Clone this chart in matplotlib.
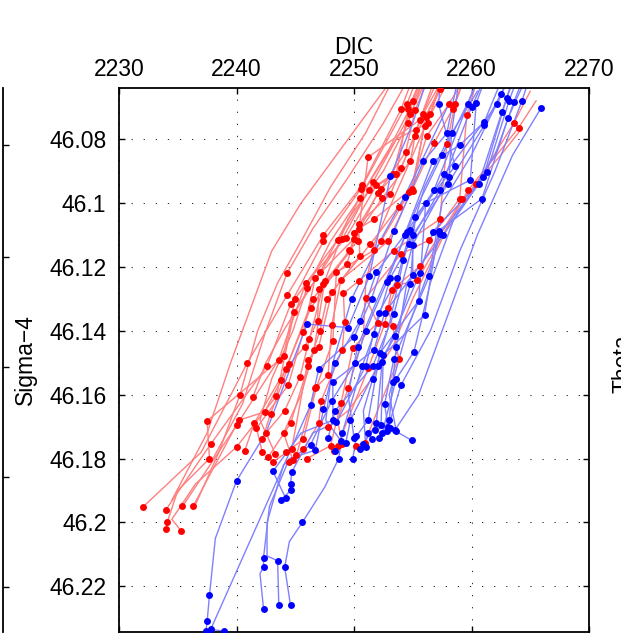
import matplotlib
matplotlib.use("Agg")
import matplotlib.pyplot as plt

plt.rcParams['font.family'] = ['Liberation Sans', 'DejaVu Sans']

# x = DIC, y = Sigma-4, third value 1 = sample dot, 0 = line only
red_profiles = [
    [(2232.0, 46.1953, 1), (2237.0, 46.178, 0), (2240.9, 46.1502, 1), (2244.3, 46.1289, 1), (2247.4, 46.110, 1), (2250.7, 46.0944, 1), (2254.0, 46.0707, 1), (2255.6, 46.055, 0)],
    [(2234.0, 46.196, 1), (2237.8, 46.1755, 1), (2242.6, 46.151, 1), (2244.6, 46.1317, 1), (2247.4, 46.112, 1), (2250.6, 46.0955, 1), (2254.5, 46.069, 1), (2256.0, 46.055, 0)],
    [(2234.0, 46.202, 1), (2234.1, 46.200, 1), (2235.0, 46.190, 0), (2237.7, 46.180, 1), (2237.5, 46.1682, 1), (2240.8, 46.158, 0), (2244.0, 46.148, 1), (2245.0, 46.1299, 1), (2248.6, 46.1115, 1), (2251.3, 46.096, 1), (2253.6, 46.091, 1), (2254.6, 46.0707, 1), (2256.4, 46.055, 0)],
    [(2235.3, 46.2027, 1), (2234.5, 46.199, 0), (2236.5, 46.188, 0), (2240.0, 46.1764, 1), (2243.4, 46.1604, 1), (2244.9, 46.1342, 1), (2249.0, 46.1113, 1), (2251.6, 46.0935, 1), (2254.8, 46.072, 1), (2257.0, 46.055, 0)],
    [(2235.4, 46.195, 1), (2240.0, 46.1696, 1), (2243.6, 46.149, 1), (2245.9, 46.125, 1), (2249.3, 46.111, 1), (2251.9, 46.0945, 1), (2253.3, 46.091, 1), (2255.0, 46.068, 1), (2256.5, 46.055, 0)],
    [(2236.3, 46.195, 1), (2240.2, 46.168, 1), (2242.4, 46.1654, 1), (2243.8, 46.1555, 1), (2246.3, 46.133, 1), (2249.6, 46.1148, 1), (2252.0, 46.097, 1), (2254.0, 46.089, 1), (2255.2, 46.079, 1), (2257.3, 46.0642, 1), (2258.0, 46.055, 0)],
    [(2240.7, 46.1776, 1), (2241.5, 46.169, 1), (2244.2, 46.152, 1), (2246.5, 46.130, 1), (2249.7, 46.115, 1), (2250.0, 46.1095, 1), (2252.3, 46.0955, 1), (2254.4, 46.084, 1), (2255.2, 46.071, 1), (2257.0, 46.055, 0)],
    [(2242.2, 46.178, 1), (2241.7, 46.1705, 1), (2244.4, 46.157, 1), (2245.7, 46.1403, 1), (2246.7, 46.1235, 1), (2250.0, 46.1112, 1), (2252.4, 46.0985, 1), (2254.8, 46.0868, 1), (2255.3, 46.077, 1), (2257.5, 46.055, 0)],
    [(2242.2, 46.174, 1), (2242.9, 46.166, 1), (2244.5, 46.1505, 1), (2245.8, 46.145, 1), (2246.9, 46.137, 1), (2247.0, 46.127, 1), (2250.3, 46.1118, 1), (2251.2, 46.0857, 1), (2255.6, 46.074, 1), (2258.5, 46.050, 0)],
    [(2242.5, 46.172, 1), (2244.1, 46.165, 1), (2245.4, 46.1545, 1), (2246.2, 46.1427, 1), (2247.4, 46.1255, 1), (2249.4, 46.119, 1), (2250.4, 46.1065, 1), (2253.1, 46.0973, 1), (2255.9, 46.072, 1), (2258.5, 46.055, 0)],
    [(2242.7, 46.1795, 1), (2244.6, 46.169, 1), (2246.1, 46.151, 1), (2247.1, 46.140, 1), (2247.7, 46.130, 1), (2250.5, 46.1165, 1), (2250.4, 46.108, 1), (2251.7, 46.1051, 1), (2254.9, 46.0955, 1), (2256.0, 46.076, 1), (2259.0, 46.055, 0)],
    [(2243.1, 46.181, 1), (2244.7, 46.177, 1), (2246.1, 46.149, 1), (2247.0, 46.145, 1), (2248.1, 46.128, 1), (2251.4, 46.1128, 1), (2253.8, 46.1012, 1), (2255.0, 46.0962, 1), (2256.1, 46.073, 1), (2259.5, 46.050, 0)],
    [(2244.2, 46.178, 1), (2245.7, 46.174, 1), (2246.8, 46.1577, 1), (2248.2, 46.1432, 1), (2248.5, 46.1217, 1), (2251.7, 46.1148, 1), (2252.3, 46.112, 1), (2254.7, 46.0967, 1), (2256.2, 46.079, 1), (2258.1, 46.069, 1), (2259.5, 46.060, 0)],
    [(2244.5, 46.181, 1), (2245.1, 46.179, 1), (2246.7, 46.158, 1), (2247.8, 46.1539, 1), (2248.1, 46.1383, 1), (2248.9, 46.124, 1), (2252.9, 46.112, 1), (2256.8, 46.0813, 1), (2258.4, 46.0705, 1), (2260.0, 46.055, 0)],
    [(2245.7, 46.177, 1), (2247.0, 46.169, 1), (2247.2, 46.162, 1), (2249.0, 46.1459, 1), (2249.2, 46.1374, 1), (2249.1, 46.1283, 1), (2250.4, 46.1244, 1), (2253.4, 46.1149, 1), (2257.3, 46.1051, 1), (2257.9, 46.0816, 1), (2258.6, 46.069, 1), (2260.5, 46.050, 0)],
    [(2246.0, 46.180, 1), (2248.0, 46.176, 1), (2248.9, 46.1626, 1), (2249.9, 46.1454, 1), (2252.0, 46.1375, 1), (2251.0, 46.1297, 1), (2254.0, 46.116, 1), (2256.4, 46.1116, 1), (2259.0, 46.0986, 1), (2259.6, 46.0725, 1), (2261.0, 46.055, 0)],
    [(2248.3, 46.1777, 1), (2248.6, 46.176, 1), (2251.2, 46.1518, 1), (2252.6, 46.138, 1), (2253.2, 46.1273, 1), (2255.6, 46.1198, 1), (2259.2, 46.0989, 1), (2260.4, 46.094, 1), (2263.6, 46.075, 1), (2265.0, 46.065, 0)],
    [(2250.2, 46.176, 1), (2250.9, 46.175, 1), (2253.8, 46.1487, 1), (2253.3, 46.1386, 1), (2252.9, 46.133, 1), (2253.7, 46.1257, 1), (2255.4, 46.1242, 1), (2259.7, 46.096, 1), (2264.0, 46.0765, 1), (2265.5, 46.068, 0)],
    [(2241.4, 46.1607, 1), (2242.5, 46.150, 0), (2244.0, 46.140, 0), (2247.1, 46.1217, 1), (2250.5, 46.0983, 1), (2253.6, 46.080, 0), (2256.3, 46.075, 1), (2257.5, 46.060, 0)],
    [(2247.8, 46.170, 1), (2249.5, 46.165, 0), (2251.5, 46.155, 0), (2253.3, 46.145, 0), (2255.0, 46.130, 0), (2257.0, 46.115, 0), (2259.0, 46.100, 0), (2262.5, 46.085, 0), (2264.0, 46.078, 0)],
    [(2243.3, 46.1785, 1), (2242.0, 46.168, 0), (2243.0, 46.155, 0), (2244.8, 46.140, 0), (2246.0, 46.1265, 1), (2248.0, 46.112, 0), (2250.2, 46.100, 0), (2253.0, 46.083, 0), (2255.5, 46.065, 0), (2257.0, 46.050, 0)],
    [(2244.8, 46.1805, 1), (2244.0, 46.172, 1), (2245.5, 46.160, 0), (2246.6, 46.146, 1), (2247.5, 46.1245, 1), (2249.5, 46.105, 0), (2252.5, 46.090, 0), (2254.6, 46.075, 1), (2256.5, 46.055, 0)],
    [(2234.5, 46.193, 0), (2237.5, 46.172, 0), (2239.5, 46.150, 0), (2241.5, 46.130, 0), (2243.0, 46.115, 0), (2245.5, 46.100, 0), (2248.5, 46.085, 0), (2251.5, 46.070, 0), (2253.5, 46.060, 0)],
    [(2236.5, 46.1945, 0), (2238.5, 46.178, 0), (2240.3, 46.160, 1), (2241.8, 46.140, 0), (2243.5, 46.125, 0), (2245.5, 46.112, 0), (2248.0, 46.095, 0), (2251.0, 46.078, 0), (2253.5, 46.060, 0)],
    [(2249.0, 46.1755, 1), (2248.6, 46.168, 0), (2249.5, 46.158, 1), (2250.8, 46.142, 0), (2251.0, 46.125, 0), (2251.8, 46.112, 0), (2253.2, 46.100, 0), (2255.0, 46.085, 0), (2256.5, 46.072, 1), (2257.5, 46.062, 0)],
    [(2238.0, 46.180, 0), (2240.5, 46.163, 0), (2242.5, 46.140, 0), (2244.3, 46.122, 1), (2246.5, 46.108, 0), (2249.5, 46.092, 0), (2252.5, 46.075, 0), (2254.8, 46.060, 0)],
]

blue_profiles = [
    [(2237.4, 46.234, 1), (2237.5, 46.231, 1), (2237.7, 46.2227, 1), (2238.2, 46.205, 0), (2240.0, 46.187, 1), (2242.5, 46.172, 0), (2246.0, 46.1379, 1), (2249.5, 46.139, 1), (2251.3, 46.123, 1), (2253.1, 46.0916, 1), (2255.0, 46.075, 0), (2256.5, 46.058, 0)],
    [(2238.9, 46.234, 1), (2237.8, 46.2335, 1), (2246.3, 46.1633, 1), (2247.0, 46.152, 1), (2250.0, 46.142, 1), (2251.5, 46.1299, 1), (2253.4, 46.1088, 1), (2255.9, 46.087, 1), (2257.9, 46.0782, 1), (2259.0, 46.058, 0)],
    [(2242.3, 46.227, 1), (2242.0, 46.216, 0), (2242.3, 46.214, 1), (2242.3, 46.211, 1), (2242.8, 46.195, 0), (2244.5, 46.180, 0), (2246.7, 46.1774, 1), (2247.4, 46.1646, 1), (2248.4, 46.150, 1), (2250.5, 46.137, 1), (2251.9, 46.1217, 1), (2254.3, 46.110, 1), (2256.7, 46.087, 1), (2259.0, 46.0819, 1), (2261.1, 46.0745, 1), (2262.5, 46.062, 0)],
    [(2243.6, 46.226, 1), (2243.5, 46.212, 1), (2242.6, 46.2105, 0), (2242.6, 46.200, 0), (2244.0, 46.182, 0), (2246.3, 46.1757, 1), (2248.1, 46.162, 1), (2250.1, 46.150, 1), (2251.0, 46.140, 1), (2252.8, 46.1247, 1), (2254.5, 46.109, 1), (2256.8, 46.096, 1), (2259.7, 46.069, 1), (2260.8, 46.058, 0)],
    [(2244.6, 46.226, 1), (2244.1, 46.214, 1), (2244.5, 46.206, 0), (2245.6, 46.200, 1), (2247.5, 46.189, 0), (2248.7, 46.180, 1), (2249.0, 46.172, 1), (2250.7, 46.151, 1), (2251.7, 46.141, 1), (2253.1, 46.1234, 1), (2254.7, 46.1127, 1), (2257.3, 46.096, 1), (2260.0, 46.070, 1), (2261.5, 46.058, 0)],
    [(2243.8, 46.193, 1), (2244.6, 46.190, 1), (2244.6, 46.188, 1), (2244.7, 46.1842, 1), (2246.5, 46.172, 0), (2248.5, 46.1687, 1), (2251.0, 46.151, 1), (2252.1, 46.1344, 1), (2253.7, 46.1236, 1), (2254.8, 46.1085, 1), (2257.7, 46.091, 1), (2262.2, 46.069, 1), (2263.5, 46.058, 0)],
    [(2244.2, 46.1925, 1), (2243.1, 46.184, 1), (2245.5, 46.172, 0), (2248.2, 46.168, 1), (2248.2, 46.156, 1), (2251.7, 46.146, 1), (2252.6, 46.1345, 1), (2255.0, 46.1225, 1), (2255.0, 46.110, 1), (2258.0, 46.094, 1), (2261.1, 46.0756, 1), (2262.5, 46.0659, 1), (2263.5, 46.058, 0)],
    [(2247.8, 46.1735, 1), (2248.4, 46.165, 1), (2251.6, 46.151, 1), (2253.4, 46.1347, 1), (2255.0, 46.113, 1), (2258.1, 46.092, 1), (2258.3, 46.0782, 1), (2259.0, 46.060, 0)],
    [(2248.4, 46.1775, 1), (2249.3, 46.175, 1), (2249.7, 46.168, 1), (2252.0, 46.151, 1), (2253.5, 46.1417, 1), (2254.8, 46.1254, 1), (2255.2, 46.1043, 1), (2258.6, 46.0885, 1), (2257.2, 46.069, 1), (2257.5, 46.055, 0)],
    [(2249.9, 46.180, 1), (2250.2, 46.173, 1), (2251.2, 46.168, 1), (2252.2, 46.147, 1), (2255.5, 46.1306, 1), (2256.1, 46.100, 1), (2259.9, 46.0928, 1), (2260.4, 46.0687, 1), (2261.5, 46.058, 0)],
    [(2250.5, 46.177, 1), (2250.8, 46.1755, 1), (2251.9, 46.169, 1), (2252.4, 46.1497, 1), (2255.6, 46.122, 1), (2256.7, 46.109, 1), (2260.6, 46.094, 1), (2262.6, 46.0714, 1), (2263.5, 46.062, 0)],
    [(2251.5, 46.174, 1), (2251.2, 46.172, 1), (2252.3, 46.1696, 1), (2252.5, 46.1476, 1), (2256.0, 46.135, 1), (2257.2, 46.1087, 1), (2260.9, 46.0986, 1), (2263.1, 46.0735, 1), (2264.5, 46.062, 0)],
    [(2251.8, 46.171, 1), (2252.9, 46.170, 1), (2252.6, 46.163, 1), (2253.4, 46.1487, 1), (2256.4, 46.123, 1), (2257.3, 46.1098, 1), (2261.0, 46.092, 1), (2263.0, 46.067, 1), (2263.8, 46.058, 0)],
    [(2252.1, 46.1735, 1), (2253.0, 46.168, 1), (2253.3, 46.156, 1), (2253.6, 46.145, 1), (2254.5, 46.125, 0), (2257.6, 46.110, 1), (2261.3, 46.0904, 1), (2263.2, 46.068, 1), (2264.0, 46.060, 0)],
    [(2252.4, 46.172, 1), (2253.6, 46.155, 1), (2255.1, 46.1466, 1), (2256.5, 46.125, 0), (2258.5, 46.105, 0), (2262.0, 46.085, 0), (2263.6, 46.0685, 1), (2264.5, 46.060, 0)],
    [(2252.8, 46.1715, 1), (2254.0, 46.157, 1), (2256.5, 46.140, 0), (2259.0, 46.115, 0), (2262.0, 46.090, 0), (2264.3, 46.068, 1), (2265.0, 46.060, 0)],
    [(2253.1, 46.1705, 1), (2253.5, 46.171, 1), (2255.5, 46.160, 0), (2258.0, 46.135, 0), (2260.5, 46.110, 0), (2263.5, 46.085, 0), (2265.9, 46.0704, 1)],
    [(2254.9, 46.1743, 1), (2253.6, 46.1715, 1), (2253.0, 46.160, 0), (2254.5, 46.140, 0), (2256.5, 46.120, 0), (2257.5, 46.100, 0), (2260.0, 46.085, 0), (2262.0, 46.070, 0)],
    [(2250.0, 46.1735, 1), (2249.5, 46.160, 0), (2250.3, 46.145, 1), (2252.0, 46.130, 0), (2253.8, 46.115, 0), (2255.5, 46.100, 0), (2257.5, 46.085, 1), (2259.5, 46.070, 0), (2261.0, 46.058, 0)],
    [(2251.0, 46.1765, 1), (2250.8, 46.165, 0), (2251.6, 46.155, 1), (2253.0, 46.138, 0), (2254.2, 46.118, 1), (2256.0, 46.095, 0), (2258.0, 46.080, 0), (2260.5, 46.065, 0)],
    [(2248.9, 46.1745, 1), (2247.6, 46.168, 0), (2248.2, 46.150, 0), (2249.8, 46.130, 1), (2252.5, 46.110, 0), (2254.3, 46.098, 1), (2256.0, 46.085, 0), (2258.2, 46.068, 0)],
]

x_ticks = [2230, 2240, 2250, 2260, 2270]
y_ticks = [46.08, 46.10, 46.12, 46.14, 46.16, 46.18, 46.20, 46.22]
y_tick_labels = ['46.08', '46.1', '46.12', '46.14', '46.16', '46.18', '46.2', '46.22']

red_line = '#ff8080'
blue_line = '#8080ff'

fig = plt.figure(figsize=(6.21, 6.36), dpi=100)
ax = fig.add_axes([119 / 621, 1 - 632 / 636, 470 / 621, 544 / 636])

for prof in red_profiles:
    ax.plot([p[0] for p in prof], [p[1] for p in prof], color=red_line, lw=1.0, zorder=2)
for prof in blue_profiles:
    ax.plot([p[0] for p in prof], [p[1] for p in prof], color=blue_line, lw=1.0, zorder=2)
for prof in red_profiles:
    ax.plot([p[0] for p in prof if p[2]], [p[1] for p in prof if p[2]], 'o', color='red',
            ms=5, mew=0, zorder=3)
for prof in blue_profiles:
    ax.plot([p[0] for p in prof if p[2]], [p[1] for p in prof if p[2]], 'o', color='blue',
            ms=5, mew=0, zorder=3)

ax.set_xlim(2230, 2270)
ax.set_ylim(46.2343, 46.064)
ax.set_xticks(x_ticks)
ax.set_yticks(y_ticks)
ax.set_yticklabels(y_tick_labels)
ax.xaxis.tick_top()
ax.xaxis.set_label_position('top')
ax.tick_params(direction='in', length=4, width=1, labelsize=16.5,
               top=True, bottom=True, left=True, right=True)
ax.tick_params(axis='x', pad=5)
ax.tick_params(axis='y', pad=9)
ax.grid(True, color='black', lw=0.6, ls=(0, (1.5, 13)))
for s in ax.spines.values():
    s.set_linewidth(1.3)

ax.set_xlabel('DIC', fontsize=16.5, labelpad=3)
ax.set_ylabel('Sigma\u22124', fontsize=16.5, labelpad=9)

# edge of the neighbouring panel on the left
left = fig.add_axes([-0.5, 1 - 632 / 636, 0.5 + 3 / 621, 544 / 636])
left.set_xticks([])
left.set_ylim(0, 544)
left.set_yticks([632 - 145, 632 - 257, 632 - 367, 632 - 477, 632 - 587])
left.yaxis.tick_right()
left.tick_params(direction='out', length=4, width=1, labelright=False)
for k in ['left', 'top', 'bottom']:
    left.spines[k].set_visible(False)
left.spines['right'].set_linewidth(1.3)
left.patch.set_visible(False)

# label of the neighbouring panel on the right
fig.text(611 / 621, 1 - 364 / 636, 'Theta', rotation=90, ha='left', va='center', fontsize=16.5)

fig.savefig('out.png', dpi=100)
